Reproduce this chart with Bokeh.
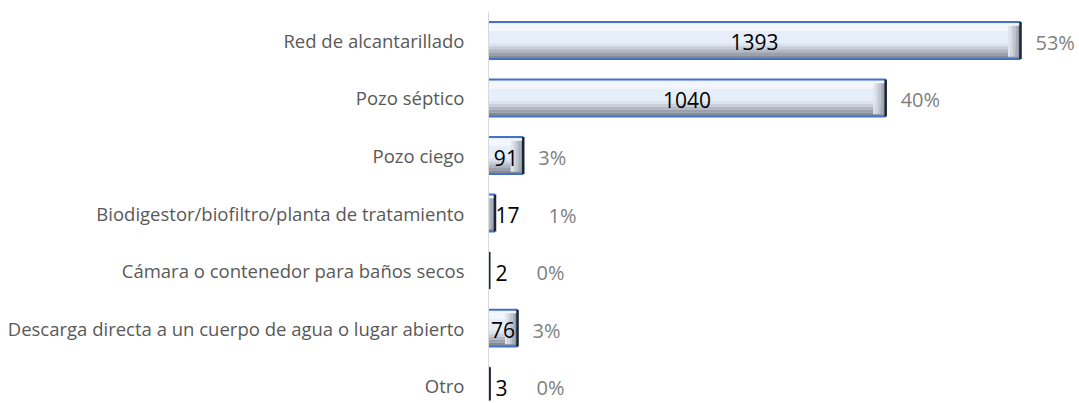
import numpy as np
from bokeh.plotting import figure
from bokeh.models import ColumnDataSource, Range1d, FixedTicker
from bokeh.core.properties import value
from bokeh.embed import file_html
from bokeh.resources import INLINE

categories = [
    "Red de alcantarillado",
    "Pozo séptico",
    "Pozo ciego",
    "Biodigestor/biofiltro/planta de tratamiento",
    "Cámara o contenedor para baños secos",
    "Descarga directa a un cuerpo de agua o lugar abierto",
    "Otro",
]
counts = [1393, 1040, 91, 17, 2, 76, 3]
pct_labels = ["53%", "40%", "3%", "1%", "0%", "3%", "0%"]

FONT = "Open Sans"
n = len(categories)
ypos = np.arange(n, dtype=float)
cnt = np.array(counts, dtype=float)
H = 0.64

W, HGT = 1077, 402
LEFT = 488
frame_w = W - LEFT
pxu = 1393 / 532.0  # data units per pixel
p = figure(width=W, height=HGT, output_backend="svg", toolbar_location=None,
           x_range=Range1d(0, frame_w * pxu), y_range=Range1d(6.26, -0.504),
           min_border_left=LEFT, min_border_right=0, min_border_top=11, min_border_bottom=2)
p.outline_line_color = None
p.xgrid.visible = False
p.ygrid.visible = False
p.xaxis.visible = False
p.background_fill_color = "white"

ax = p.yaxis[0]
ax.ticker = FixedTicker(ticks=list(ypos))
ax.major_label_overrides = {float(i): c for i, c in enumerate(categories)}
ax.major_label_overrides.update({int(i): c for i, c in enumerate(categories)})
ax.major_tick_line_color = None
ax.minor_tick_line_color = None
ax.axis_line_color = "#d9d9d9"
ax.axis_line_width = 1
ax.major_label_text_font = FONT
ax.major_label_text_font_size = "18.5px"
ax.major_label_text_color = "#595959"
ax.major_label_standoff = 18

# base bar
p.hbar(y=ypos, left=0, right=cnt, height=H, fill_color="#e6eefa", line_color=None)
# highlight near top
p.hbar(y=ypos + (0.15 - 0.5) * H, left=0, right=cnt, height=0.2 * H, fill_color="#f3f7fd", line_color=None)
# bottom shading strips
for f0, f1, col in [(0.58, 0.66, "#dde3ec"), (0.66, 0.74, "#c9cfd9"), (0.74, 0.82, "#b2b8c3"),
                    (0.82, 0.90, "#9aa1ac"), (0.90, 1.0, "#858c98")]:
    p.hbar(y=ypos + ((f0 + f1) / 2 - 0.5) * H, left=0, right=cnt, height=(f1 - f0) * H,
           fill_color=col, line_color=None)
# right bevel strips
for k, col in [(5, "#e2e6ec"), (4, "#d2d7df"), (3, "#bfc5ce"), (2, "#a8aeb9"), (1, "#8f96a1")]:
    p.hbar(y=ypos + 0.02 * H, left=np.maximum(0, cnt - k * 2.5 * pxu), right=np.maximum(0, cnt - (k - 1) * 2.5 * pxu),
           height=0.84 * H, fill_color=col, line_color=None)
# borders top/bottom (blue) and right edge (dark)
p.segment(x0=np.zeros(n), x1=cnt, y0=ypos - H / 2, y1=ypos - H / 2, line_color="#4472c4", line_width=2)
p.segment(x0=np.zeros(n), x1=cnt, y0=ypos + H / 2, y1=ypos + H / 2, line_color="#4472c4", line_width=2)
p.segment(x0=cnt, x1=cnt, y0=ypos - H / 2, y1=ypos + H / 2, line_color="#1b2535", line_width=2.5)

# count labels
small = cnt < 40
src_in = ColumnDataSource(dict(x=(cnt / 2)[~small], y=ypos[~small],
                               t=[str(c) for c, s in zip(counts, small) if not s]))
p.text(x="x", y="y", text="t", source=src_in, text_align="center", text_baseline="middle",
       text_font=value(FONT), text_font_size="21px", text_color="black", y_offset=2)
src_out = ColumnDataSource(dict(x=np.zeros(int(small.sum())), y=ypos[small],
                                t=[str(c) for c, s in zip(counts, small) if s]))
p.text(x="x", y="y", text="t", source=src_out, text_align="left", text_baseline="middle",
       text_font=value(FONT), text_font_size="21px", text_color="black", x_offset=7, y_offset=2)

# percent labels
pct_x = np.where(small, 0, cnt)
pct_off = [8 + 12 * len(str(c)) + 28 if s else 15 for c, s in zip(counts, small)]
src_p = ColumnDataSource(dict(x=pct_x, y=ypos, t=pct_labels, xo=pct_off))
p.text(x="x", y="y", text="t", source=src_p, text_align="left", text_baseline="middle",
       text_font=value(FONT), text_font_size="20px", text_color="#808080", x_offset="xo", y_offset=2)

open("out.html", "w").write(file_html(p, INLINE))
